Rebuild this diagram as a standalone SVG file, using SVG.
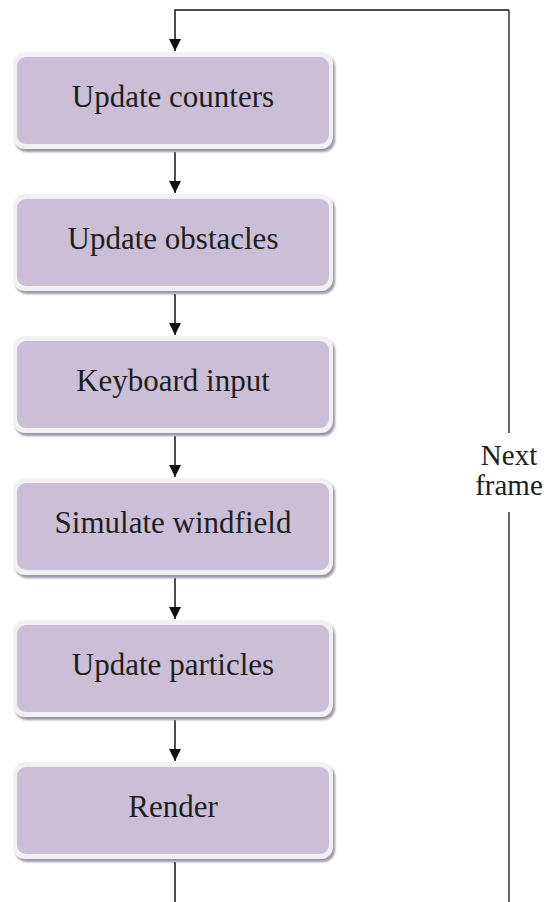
<svg xmlns="http://www.w3.org/2000/svg" width="544" height="902" viewBox="0 0 544 902">
  <defs>
    <marker id="arrow" viewBox="0 0 12 12" refX="12" refY="6" markerWidth="12" markerHeight="12" markerUnits="userSpaceOnUse" orient="auto">
      <path d="M0,0 L12,6 L0,12 Z" fill="#111"/>
    </marker>
    <filter id="soft" x="-5%" y="-10%" width="110%" height="125%">
      <feGaussianBlur stdDeviation="1"/>
    </filter>
  </defs>
  <style>
    .shadow { fill: #9b94a4; filter: url(#soft); }
    .rim { fill: #f1f0f2; }
    .box { fill: #cbbfd8; }
    .label { font-family: "Liberation Serif", "Times New Roman", serif; font-size: 31px; fill: #1e1e1e; text-anchor: middle; }
    .conn { stroke: #111; stroke-width: 1.5; fill: none; }
    .loop { stroke: #333; stroke-width: 1.5; fill: none; }
  </style>
  <rect width="544" height="902" fill="#ffffff"/>

  <!-- connectors -->
  <g id="connectors">
    <path class="conn" d="M509,10 H175 V51" marker-end="url(#arrow)"/>
    <path class="conn" d="M175,152 V193" marker-end="url(#arrow)"/>
    <path class="conn" d="M175,294 V335" marker-end="url(#arrow)"/>
    <path class="conn" d="M175,436 V477" marker-end="url(#arrow)"/>
    <path class="conn" d="M175,578 V619" marker-end="url(#arrow)"/>
    <path class="conn" d="M175,720 V761" marker-end="url(#arrow)"/>
    <path class="conn" d="M175,862 V902"/>
    <path class="loop" d="M509,10 V433"/>
    <path class="loop" d="M509,512 V902"/>
    <text class="label" x="509" y="465" style="font-size:29px">Next</text>
    <text class="label" x="509" y="495" style="font-size:29px">frame</text>
  </g>

  <g id="update-counters">
    <rect class="shadow" x="15" y="55" width="320" height="97" rx="12"/>
    <rect class="rim" x="13" y="52" width="320" height="97" rx="12"/>
    <rect class="box" x="17" y="57" width="312" height="87" rx="9"/>
    <text class="label" x="173" y="107">Update counters</text>
  </g>

  <g id="update-obstacles">
    <rect class="shadow" x="15" y="197" width="320" height="97" rx="12"/>
    <rect class="rim" x="13" y="194" width="320" height="97" rx="12"/>
    <rect class="box" x="17" y="199" width="312" height="87" rx="9"/>
    <text class="label" x="173" y="249">Update obstacles</text>
  </g>

  <g id="keyboard-input">
    <rect class="shadow" x="15" y="339" width="320" height="97" rx="12"/>
    <rect class="rim" x="13" y="336" width="320" height="97" rx="12"/>
    <rect class="box" x="17" y="341" width="312" height="87" rx="9"/>
    <text class="label" x="173" y="391">Keyboard input</text>
  </g>

  <g id="simulate-windfield">
    <rect class="shadow" x="15" y="481" width="320" height="97" rx="12"/>
    <rect class="rim" x="13" y="478" width="320" height="97" rx="12"/>
    <rect class="box" x="17" y="483" width="312" height="87" rx="9"/>
    <text class="label" x="173" y="533">Simulate windfield</text>
  </g>

  <g id="update-particles">
    <rect class="shadow" x="15" y="623" width="320" height="97" rx="12"/>
    <rect class="rim" x="13" y="620" width="320" height="97" rx="12"/>
    <rect class="box" x="17" y="625" width="312" height="87" rx="9"/>
    <text class="label" x="173" y="675">Update particles</text>
  </g>

  <g id="render">
    <rect class="shadow" x="15" y="765" width="320" height="97" rx="12"/>
    <rect class="rim" x="13" y="762" width="320" height="97" rx="12"/>
    <rect class="box" x="17" y="767" width="312" height="87" rx="9"/>
    <text class="label" x="173" y="817">Render</text>
  </g>
</svg>
